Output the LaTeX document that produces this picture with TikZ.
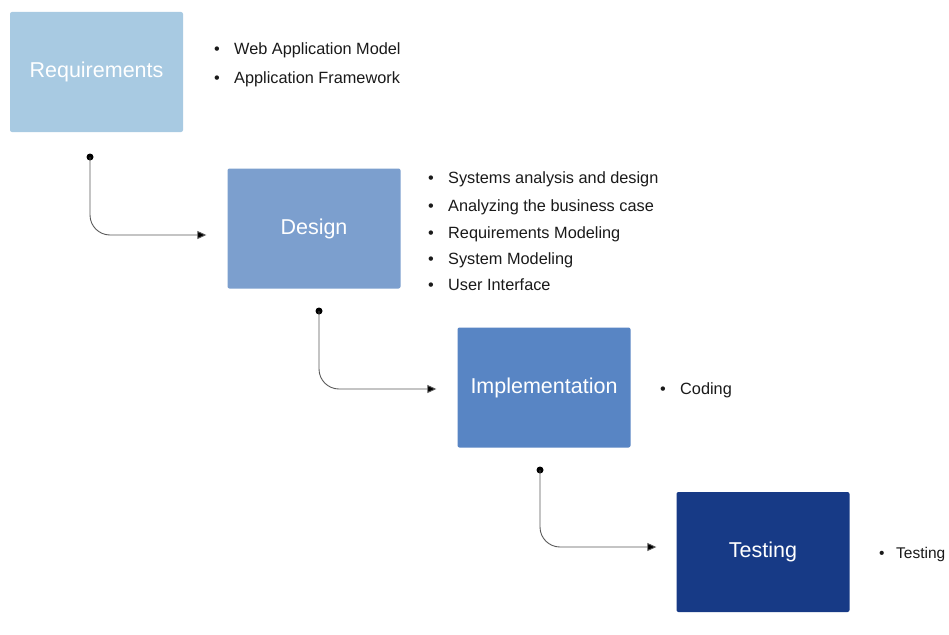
\documentclass[tikz,border=0pt]{standalone}
\usepackage{fontspec}
\setmainfont{Liberation Sans}
\usetikzlibrary{arrows.meta}

\definecolor{reqblue}{HTML}{A8CAE2}
\definecolor{desblue}{HTML}{7C9FCE}
\definecolor{impblue}{HTML}{5885C4}
\definecolor{tstblue}{HTML}{173A86}
\definecolor{itemtext}{HTML}{1A1A1A}
\definecolor{linegray}{HTML}{5A5A5A}

\newcommand\bulletitem[2][20pt]{\makebox[#1][l]{•}#2}

\tikzset{
  phase/.style={rectangle, rounded corners=2pt, minimum width=173pt, minimum height=120pt,
    inner sep=0pt, text=white, font=\fontsize{21.5}{24}\selectfont},
  itemline/.style={anchor=base west, inner sep=0pt, text=itemtext,
    font=\fontsize{16.3}{19}\selectfont},
  startdot/.style={circle, fill=black, inner sep=0pt, minimum size=7pt},
  flow/.style={draw=linegray, line width=0.9pt, rounded corners=20pt,
    -{Triangle[length=9pt,width=8pt,fill=black]}, color=linegray}
}

\begin{document}
\begin{tikzpicture}[x=1pt, y=-1pt]
  \useasboundingbox (0,0) rectangle (949,634);
  \fill[white] (0,0) rectangle (949,634);

  % phase boxes
  \node[phase, fill=reqblue] (req) at (96.5,72) {Requirements};
  \node[phase, fill=desblue] (des) at (314,228.5) {Design};
  \node[phase, fill=impblue] (imp) at (544,387.5) {Implementation};
  \node[phase, fill=tstblue] (tst) at (763,552) {Testing};

  % bullet lists beside each phase
  \node[itemline] (r1) at (214,54) {\bulletitem{Web Application Model}};
  \node[itemline] (r2) at (214,83) {\bulletitem{Application Framework}};

  \node[itemline] (d1) at (428,183) {\bulletitem{Systems analysis and design}};
  \node[itemline] (d2) at (428,211) {\bulletitem{Analyzing the business case}};
  \node[itemline] (d3) at (428,238) {\bulletitem{Requirements Modeling}};
  \node[itemline] (d4) at (428,264) {\bulletitem{System Modeling}};
  \node[itemline] (d5) at (428,290) {\bulletitem{User Interface}};

  \node[itemline] (i1) at (660,394) {\bulletitem{Coding}};
  \node[itemline, font=\fontsize{15.5}{18}\selectfont] (t1) at (879,558) {\bulletitem[17pt]{Testing}};

  % start dots of the connectors
  \node[startdot] (s1) at (90,157) {};
  \node[startdot] (s2) at (319,311) {};
  \node[startdot] (s3) at (540,470) {};

  % connectors between phases
  \draw[flow, shorten >=21pt] (s1.center) |- ([yshift=-6.5pt]des.west);
  \draw[flow, shorten >=21pt] (s2.center) |- ([yshift=-1.5pt]imp.west);
  \draw[flow, shorten >=20pt] (s3.center) |- ([yshift=5pt]tst.west);
\end{tikzpicture}
\end{document}
